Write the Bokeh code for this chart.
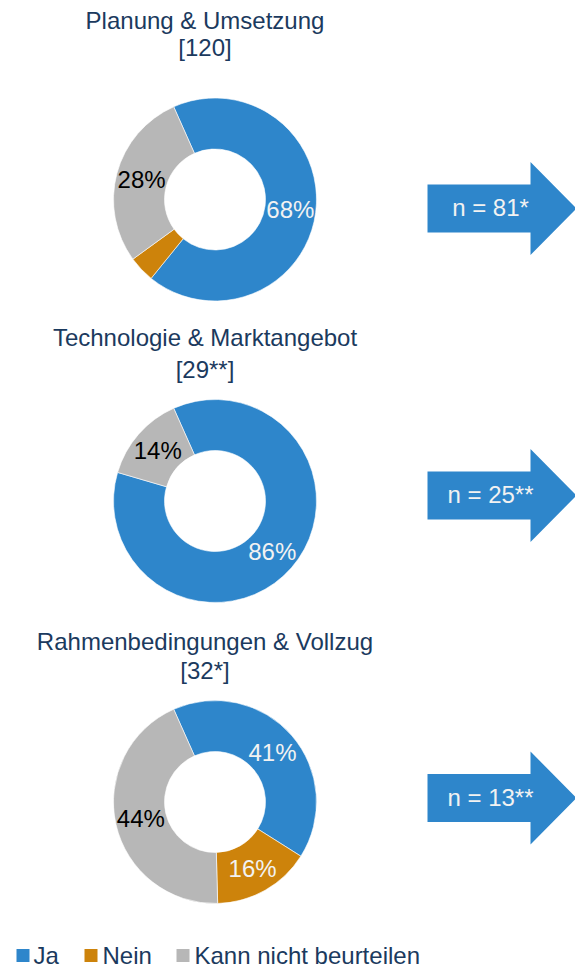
import math
from bokeh.plotting import figure
from bokeh.models import ColumnDataSource, Range1d
from bokeh.embed import file_html
from bokeh.resources import INLINE
from bokeh.core.properties import value

# ---------------- data ----------------
categories = ["Ja", "Nein", "Kann nicht beurteilen"]
panel_titles = ["Planung & Umsetzung", "Technologie & Marktangebot", "Rahmenbedingungen & Vollzug"]
panel_n_labels = ["[120]", "[29**]", "[32*]"]
ja_counts = [81, 25, 13]
nein_counts = [5, 0, 5]
knb_counts = [34, 4, 14]
arrow_labels = ["n = 81*", "n = 25**", "n = 13**"]

# ---------------- style ----------------
colors = ["#2E86CB", "#CD830B", "#B7B7B7"]
label_colors = ["#F2F2F2", "#F2F2F2", "#000000"]
navy = "#1B3A5E"
FONT = value("Liberation Sans")
FS = "24px"

W, H = 575, 968


def Y(yw):
    return H - yw


donut_cx = 214.5
donut_cy = [199, 500.5, 801.5]
r_out, r_in = 101.5, 50.5
start_cw = -24.0          # first slice starts 24 deg left of 12 o'clock
label_r = (r_out + r_in) / 2
title_x = 204.5
title_mid = [(20.0, 46.5), (337.0, 368.5), (640.5, 670.0)]
arrow_cy = [208, 495, 797.5]
ax0, aneck, atip, abody, ahead = 427, 530, 576, 24, 46.5
arrow_text_x = 490
legend_y = 955.0

p = figure(width=W, height=H, x_range=Range1d(0, W), y_range=Range1d(0, H),
           output_backend="svg", toolbar_location=None, min_border=0,
           x_axis_location=None, y_axis_location=None, outline_line_color=None,
           background_fill_color="white", border_fill_color="white")
p.grid.visible = False

wx, wy, ws, we, wc = [], [], [], [], []
lx, ly, lt, lc = [], [], [], []
for i in range(3):
    counts = [ja_counts[i], nein_counts[i], knb_counts[i]]
    total = sum(counts)
    cum = 0.0
    for k, c in enumerate(counts):
        if c == 0:
            continue
        a0 = start_cw + 360.0 * cum / total
        a1 = start_cw + 360.0 * (cum + c) / total
        cum += c
        wx.append(donut_cx)
        wy.append(Y(donut_cy[i]))
        ws.append(math.radians(90 - a0))
        we.append(math.radians(90 - a1))
        wc.append(colors[k])
        pct = 100.0 * c / total
        if pct >= 10:
            mid = math.radians((a0 + a1) / 2)
            lx.append(donut_cx + label_r * math.sin(mid))
            ly.append(Y(donut_cy[i]) + label_r * math.cos(mid))
            lt.append(f"{int(pct + 0.5)}%")
            lc.append(label_colors[k])

p.annular_wedge(x="x", y="y", inner_radius=r_in, outer_radius=r_out,
                start_angle="s", end_angle="e", direction="clock",
                fill_color="c", line_color="white", line_width=0.6,
                source=ColumnDataSource(dict(x=wx, y=wy, s=ws, e=we, c=wc)))
p.text(x="x", y="y", text="t", text_color="c", text_font=FONT, text_font_size=FS,
       text_align="center", text_baseline="middle",
       source=ColumnDataSource(dict(x=lx, y=ly, t=lt, c=lc)))

# titles
tx, ty, tt = [], [], []
for i in range(3):
    tx += [title_x, title_x]
    ty += [Y(title_mid[i][0]), Y(title_mid[i][1])]
    tt += [panel_titles[i], panel_n_labels[i]]
p.text(x=tx, y=ty, text=tt, text_color=navy, text_font=FONT, text_font_size=FS,
       text_align="center", text_baseline="middle")

# arrows
axs, ays = [], []
for cy in arrow_cy:
    c = Y(cy)
    axs.append([ax0, aneck, aneck, atip, aneck, aneck, ax0])
    ays.append([c + abody, c + abody, c + ahead, c, c - ahead, c - abody, c - abody])
p.patches(xs=axs, ys=ays, fill_color=colors[0], line_color=None)
p.text(x=[arrow_text_x] * 3, y=[Y(cy - 1) for cy in arrow_cy], text=arrow_labels,
       text_color="#F2F2F2", text_font=FONT, text_font_size=FS,
       text_align="center", text_baseline="middle")

# legend
sq_x = [22.5, 90.5, 182.5]
lg_tx = [33, 102, 194]
p.rect(x=sq_x, y=[Y(legend_y)] * 3, width=13, height=13, fill_color=colors, line_color=None)
p.text(x=lg_tx, y=[Y(legend_y)] * 3, text=categories, text_color=navy, text_font=FONT,
       text_font_size=FS, text_align="left", text_baseline="middle")

open("out.html", "w").write(file_html(p, INLINE))
